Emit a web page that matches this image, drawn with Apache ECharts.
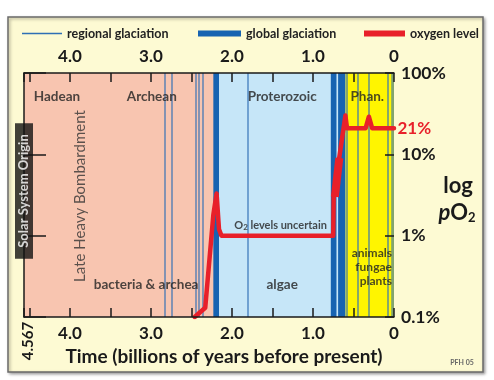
<!DOCTYPE html>
<html><head><meta charset="utf-8">
<script src="https://cdn.jsdelivr.net/npm/echarts@6/dist/echarts.min.js"></script>
<style>html,body{margin:0;padding:0;background:#fff}#c{width:494px;height:380px}</style>
</head><body><div id="c"></div>
<script>
// ---------- data ----------
const timeMax = 4.567;                 // Ga, solar system origin
const xTickLabels = [4, 3, 2, 1, 0];   // labelled ticks (Ga)
const yTickLabels = [0.1, 1, 10, 100]; // % O2
const eonNames = ['Hadean-Archean', 'Proterozoic', 'Phanerozoic'];
const eonFrom = [4.567, 2.2, 0.6];
const eonTo = [2.2, 0.6, 0];
const regionalGlaciations = [2.83, 2.74, 2.45, 2.41, 2.36, 1.80, 0.58, 0.45, 0.31, 0.08];
const regionalBandFrom = [0.035];
const regionalBandTo = [0];
const globalFrom = [2.23, 0.78, 0.69];
const globalTo = [2.16, 0.71, 0.60];
const oxygenTime  = [2.46, 2.33, 2.23, 2.19, 2.16, 2.13, 0.75, 0.745, 0.73, 0.67, 0.60, 0.58, 0.35, 0.31, 0.27, 0];
const oxygenLevel = [0.1, 0.13, 1.8, 3.3, 1.2, 1.0, 1.0, 3.0, 3.0, 10, 30, 21, 21, 29, 21, 21];
const oxygenBurstTime = [0.73, 0.675];
const oxygenBurstLevel = [3.0, 9.0];
const presentOxygen = 21;
// annotations: text, time (Ga), level (%)
const eraText = ['Hadean', 'Archean', 'Proterozoic', 'Phan.'];
const eraTime = [4.16, 2.99, 1.38, 0.33];
const eraLevel = [50.7, 50.7, 50.7, 50.7];
const lifeText = ['bacteria & archea', 'algae', 'animals\nfungae\nplants'];
const lifeTime = [3.06, 1.38, 0.025];
const lifeLevel = [0.247, 0.247, 0.41];

// ---------- styles ----------
const FONT = 'Lato';
const C_SALMON = '#f8c5b0', C_LBLUE = '#c6e6f8', C_YELLOW = '#fff500';
const C_BLUE = '#1763b1', C_REG = '#2f6fb5', C_RED = '#e8202a', INK = '#1a1a1a';
const eonColors = [C_SALMON, C_LBLUE, C_YELLOW];

const isLabelled = v => xTickLabels.some(t => Math.abs(t - v) < 1e-6);
const xFmt = v => isLabelled(v) ? (Math.abs(v) < 1e-6 ? '0' : v.toFixed(1)) : '';
const yFmt = v => (v < 0.5 ? '0.1' : String(Math.round(v))) + '%';

function xAxisDef(pos, withName) {
  return {
    type: 'value', position: pos, min: 0, max: timeMax, interval: 0.5, inverse: true, z: 10,
    axisLine: {show: true, onZero: false, lineStyle: {color: INK, width: 1.5}},
    axisTick: {show: true, inside: true, length: 9, lineStyle: {color: INK, width: 1.5}},
    splitLine: {show: false},
    axisLabel: {formatter: xFmt, margin: 8, fontFamily: FONT, fontWeight: 'bold', fontSize: 17, color: INK, hideOverlap: false},
    name: withName ? 'Time (billions of years before present)' : '',
    nameLocation: 'middle', nameGap: 28,
    nameTextStyle: {fontFamily: FONT, fontWeight: 'bold', fontSize: 19, color: INK, padding: [0, 0, 0, 30]}
  };
}

const annotations = [];
eraText.forEach((t, i) => annotations.push({
  value: [eraTime[i], eraLevel[i]],
  label: {show: true, position: 'inside', formatter: t, fontFamily: FONT, fontWeight: 'bold', fontSize: 13.5, color: '#222'}
}));
lifeText.forEach((t, i) => annotations.push({
  value: [lifeTime[i], lifeLevel[i]],
  label: i === 2
    ? {show: true, position: 'left', distance: 0, align: 'right', formatter: t, lineHeight: 14, fontFamily: FONT, fontWeight: 'bold', fontSize: 12, color: '#222'}
    : {show: true, position: 'inside', formatter: t, fontFamily: FONT, fontWeight: 'bold', fontSize: 13.5, color: '#222'}
}));
annotations.push({
  value: [1.40, 1.35],
  label: {show: true, position: 'inside', formatter: '{a|O}{b|2}{a| levels uncertain}',
    rich: {a: {fontFamily: FONT, fontWeight: 'bold', fontSize: 11, color: '#222'},
           b: {fontFamily: FONT, fontWeight: 'bold', fontSize: 8, color: '#222', verticalAlign: 'bottom', padding: [4, 0, 0, 0]}}}
});
annotations.push({
  value: [3.88, 3.07],
  label: {show: true, position: 'inside', rotate: 90, formatter: 'Late Heavy Bombardment', fontFamily: FONT, fontSize: 15, color: '#333'}
});
annotations.push({
  value: [timeMax, 3.54],
  label: {show: true, position: 'inside', rotate: 90, formatter: 'Solar System Origin', fontFamily: FONT, fontWeight: 'bold', fontSize: 13, color: '#fff',
    backgroundColor: '#111', padding: [3, 11, 2, 11]}
});

const oxygenData = oxygenTime.map((t, i) => [t, oxygenLevel[i]]);
const lastIdx = oxygenData.length - 1;
oxygenData[lastIdx] = {
  value: oxygenData[lastIdx], symbol: 'circle', symbolSize: 1,
  label: {show: true, position: 'right', distance: 3, formatter: presentOxygen + '%', fontFamily: FONT, fontWeight: 'bold', fontSize: 17, color: C_RED}
};

const legendBase = {top: 22, itemGap: 0, selectedMode: false, icon: 'rect',
  textStyle: {fontFamily: FONT, fontWeight: 'bold', fontSize: 12.5, color: '#222'}, itemStyle: {borderWidth: 0}};

const option = {
  backgroundColor: '#ffffff',
  animation: false,
  textStyle: {fontFamily: FONT},
  grid: {left: 24, right: 100, top: 73, bottom: 63, outerBoundsMode: 'none'},
  legend: [
    Object.assign({}, legendBase, {left: 17, itemWidth: 40, itemHeight: 1.5, data: ['regional glaciation']}),
    Object.assign({}, legendBase, {left: 193, itemWidth: 43, itemHeight: 6, data: ['global glaciation']}),
    Object.assign({}, legendBase, {left: 359, itemWidth: 41, itemHeight: 6, data: ['oxygen level']})
  ],
  xAxis: [xAxisDef('bottom', true), xAxisDef('top', false)],
  yAxis: [
    {type: 'log', logBase: 10, min: 0.1, max: 100, position: 'right', z: 10,
     axisLine: {show: false, onZero: false}, splitLine: {show: false},
     axisTick: {show: true, inside: true, length: 9, lineStyle: {color: INK, width: 1.5}},
     axisLabel: {formatter: yFmt, margin: 7, fontFamily: FONT, fontWeight: 'bold', fontSize: 17.5, color: INK}},
    {type: 'log', logBase: 10, min: 0.1, max: 100, position: 'left', z: 10,
     axisLine: {show: true, onZero: false, lineStyle: {color: INK, width: 1.5}}, splitLine: {show: false},
     axisTick: {show: true, inside: true, length: 22, lineStyle: {color: INK, width: 1.5}},
     axisLabel: {show: false}}
  ],
  graphic: [
    {type: 'rect', z: -10, shape: {x: 8, y: 17, width: 475, height: 355},
     style: {fill: '#fdfad3', stroke: '#6a6a6a', lineWidth: 1.5, shadowBlur: 3, shadowOffsetX: 1.5, shadowOffsetY: 1.5, shadowColor: 'rgba(0,0,0,0.35)'}},
    {type: 'text', z: 20, x: 458, y: 186, style: {text: 'log', fontFamily: FONT, fontWeight: 'bold', fontSize: 22, fill: INK, align: 'center', verticalAlign: 'middle'}},
    {type: 'text', z: 20, x: 457, y: 213, style: {text: '{i|p}{n|O}{s|2}', align: 'center', verticalAlign: 'middle',
      rich: {i: {fontFamily: FONT, fontWeight: 'bold', fontStyle: 'italic', fontSize: 22, fill: INK},
             n: {fontFamily: FONT, fontWeight: 'bold', fontSize: 22, fill: INK},
             s: {fontFamily: FONT, fontWeight: 'bold', fontSize: 13, fill: INK, verticalAlign: 'bottom', padding: [8, 0, 0, 0]}}}},
    {type: 'text', z: 20, x: 28, y: 341, rotation: Math.PI / 2, style: {text: '4.567', fontFamily: FONT, fontWeight: 'bold', fontSize: 15, fill: INK, align: 'center', verticalAlign: 'middle'}},
    {type: 'text', z: 20, x: 462, y: 363, style: {text: 'PFH 05', fontFamily: FONT, fontWeight: 'bold', fontSize: 7, fill: '#666', align: 'center', verticalAlign: 'middle'}}
  ],
  series: [
    {name: 'eons', type: 'line', data: [], silent: true,
     markArea: {silent: true, z: 1, data: eonNames.map((n, i) => [{xAxis: eonFrom[i], itemStyle: {color: eonColors[i]}}, {xAxis: eonTo[i]}])}},
    {name: 'regional glaciation', type: 'line', data: [], symbol: 'none', color: C_REG, lineStyle: {color: C_REG, width: 1.5},
     markLine: {silent: true, z: 3, symbol: ['none', 'none'], label: {show: false},
       lineStyle: {color: C_REG, width: 1.6, type: 'solid', opacity: 0.72},
       data: regionalGlaciations.map(v => ({xAxis: v}))},
     markArea: {silent: true, z: 3, itemStyle: {color: C_REG, opacity: 0.6},
       data: regionalBandFrom.map((f, i) => [{xAxis: f}, {xAxis: regionalBandTo[i]}])}},
    {name: 'global glaciation', type: 'line', data: [], symbol: 'none', color: C_BLUE, lineStyle: {color: C_BLUE, width: 6},
     markArea: {silent: true, z: 4, itemStyle: {color: C_BLUE},
       data: globalFrom.map((f, i) => [{xAxis: f}, {xAxis: globalTo[i]}])}},
    {name: 'oxygen level', type: 'line', z: 7, data: oxygenData, symbol: 'none', color: C_RED,
     lineStyle: {color: C_RED, width: 4.5, join: 'round', cap: 'round'}, silent: true},
    {name: 'oxygen level', type: 'line', z: 7, data: oxygenBurstTime.map((t, i) => [t, oxygenBurstLevel[i]]), symbol: 'none', color: C_RED,
     lineStyle: {color: C_RED, width: 8, cap: 'butt'}, silent: true},
    {name: 'labels', type: 'scatter', z: 12, symbolSize: 0, clip: false, silent: true, data: annotations}
  ]
};
const chart = echarts.init(document.getElementById('c'), null, {renderer: 'canvas'});
chart.setOption(option);
</script></body></html>
